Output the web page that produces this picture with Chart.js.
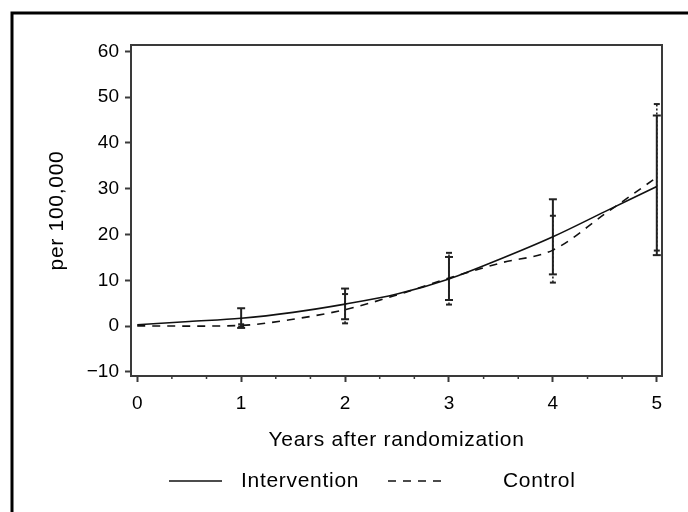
<!DOCTYPE html>
<html>
<head>
<meta charset="utf-8">
<style>
  html, body { margin: 0; padding: 0; background: #fff; }
  #wrap { width: 688px; height: 512px; position: relative; }
</style>
<script src="https://cdn.jsdelivr.net/npm/chart.js"></script>
</head>
<body>
<div id="wrap"><canvas id="chart"></canvas></div>
<script>
/* ---------- DATA ---------- */
const years = [0, 0.5, 1, 1.5, 2, 2.5, 3, 3.5, 4, 4.5, 5];
const intervention = [0.3, 1.0, 1.7, 3.0, 4.8, 7.0, 10.3, 14.7, 19.5, 25.0, 30.5];
const control = [0.05, 0.0, 0.15, 1.5, 3.6, 6.8, 10.5, 13.8, 16.6, 24.5, 32.5];

// 95% intervals at each full year
const ciYears = [1, 2, 3, 4, 5];
const interventionLow = [-0.4, 1.5, 5.7, 11.3, 15.5];
const interventionHigh = [3.9, 8.2, 15.1, 27.7, 46.0];
const controlLow = [-0.1, 0.6, 4.7, 9.5, 16.5];
const controlHigh = [0.4, 7.0, 16.0, 24.1, 48.5];

const xTicks = [0, 1, 2, 3, 4, 5];
const yTicks = [-10, 0, 10, 20, 30, 40, 50, 60];

/* ---------- HELPERS ---------- */
const toPoints = (xs, ys) => xs.map((x, i) => ({ x: x, y: ys[i] }));

// one broken line: low -> high, gap, next year ...
function ciPoints(xs, lo, hi) {
  const pts = [];
  xs.forEach((x, i) => {
    pts.push({ x: x, y: lo[i] });
    pts.push({ x: x, y: hi[i] });
    pts.push({ x: x, y: null });
  });
  return pts;
}

const ink = '#111';
const frameColor = '#3a3a3a';

/* ---------- EXTRA DRAWING ---------- */
const decor = {
  id: 'decor',
  afterDraw(chart) {
    const ctx = chart.ctx;
    const a = chart.chartArea;
    const xs = chart.scales.x;

    ctx.save();
    // plot box
    ctx.strokeStyle = frameColor;
    ctx.lineWidth = 2;
    ctx.strokeRect(a.left, a.top, a.right - a.left, a.bottom - a.top);

    // minor ticks on x axis
    ctx.lineWidth = 1.5;
    ctx.beginPath();
    for (let k = 0; k < 15; k++) {
      if (k % 3 === 0) continue;
      const px = xs.getPixelForValue(k / 3);
      ctx.moveTo(px, a.bottom);
      ctx.lineTo(px, a.bottom + 3);
    }
    ctx.stroke();

    // outer frame
    ctx.strokeStyle = '#000';
    ctx.lineWidth = 3;
    ctx.strokeRect(12, 13, 800, 600);

    // titles
    ctx.fillStyle = '#000';
    ctx.letterSpacing = '0.7px';
    ctx.font = '21px "Liberation Sans", Arial, sans-serif';
    ctx.textBaseline = 'middle';
    ctx.textAlign = 'center';
    ctx.fillText('Years after randomization', (a.left + a.right) / 2, 440);

    ctx.save();
    ctx.translate(57, (a.top + a.bottom) / 2);
    ctx.rotate(-Math.PI / 2);
    ctx.fillText('per 100,000', 0, 0);
    ctx.restore();

    // legend
    ctx.textAlign = 'left';
    ctx.strokeStyle = ink;
    ctx.lineWidth = 1.5;
    ctx.beginPath();
    ctx.moveTo(169, 481);
    ctx.lineTo(222, 481);
    ctx.stroke();
    ctx.fillText('Intervention', 241, 481);

    ctx.setLineDash([8, 7]);
    ctx.beginPath();
    ctx.moveTo(388, 481);
    ctx.lineTo(443, 481);
    ctx.stroke();
    ctx.setLineDash([]);
    ctx.fillText('Control', 503, 481);
    ctx.restore();
  }
};

/* ---------- CHART ---------- */
const tickFont = { family: '"Liberation Sans", Arial, sans-serif', size: 19 };

new Chart(document.getElementById('chart'), {
  type: 'line',
  data: {
    datasets: [
      {
        label: 'Intervention',
        data: toPoints(years, intervention),
        borderColor: ink,
        borderWidth: 1.6,
        pointRadius: 0,
        cubicInterpolationMode: 'monotone'
      },
      {
        label: 'Control',
        data: toPoints(years, control),
        borderColor: ink,
        borderWidth: 1.6,
        borderDash: [8, 7],
        pointRadius: 0,
        cubicInterpolationMode: 'monotone'
      },
      {
        label: 'Intervention CI',
        data: ciPoints(ciYears, interventionLow, interventionHigh),
        borderColor: '#222',
        borderWidth: 2,
        pointStyle: 'line',
        pointRadius: 4,
        pointBorderWidth: 2,
        pointBorderColor: '#222',
        spanGaps: false,
        tension: 0
      },
      {
        label: 'Control CI',
        data: ciPoints(ciYears, controlLow, controlHigh),
        borderColor: '#222',
        borderWidth: 1.6,
        borderDash: [2, 2],
        pointStyle: 'line',
        pointRadius: 3,
        pointBorderWidth: 2,
        pointBorderColor: '#222',
        spanGaps: false,
        tension: 0
      }
    ]
  },
  options: {
    responsive: true,
    maintainAspectRatio: false,
    animation: false,
    layout: { padding: { left: 0, right: 26, top: 45, bottom: 0 } },
    plugins: {
      legend: { display: false },
      tooltip: { enabled: false }
    },
    scales: {
      x: {
        type: 'linear',
        min: -0.06,
        max: 5.05,
        afterBuildTicks: s => { s.ticks = xTicks.map(v => ({ value: v })); },
        afterFit: s => { s.height = 136; },
        grid: {
          drawOnChartArea: false,
          drawTicks: true,
          tickLength: 6,
          tickWidth: 2,
          tickColor: frameColor
        },
        border: { display: true, color: frameColor, width: 2 },
        ticks: { color: '#000', font: tickFont, padding: 10, maxRotation: 0 }
      },
      y: {
        type: 'linear',
        min: -10.9,
        max: 61.4,
        afterBuildTicks: s => { s.ticks = yTicks.map(v => ({ value: v })); },
        afterFit: s => { s.width = 131; },
        grid: {
          drawOnChartArea: false,
          drawTicks: true,
          tickLength: 6,
          tickWidth: 2,
          tickColor: frameColor
        },
        border: { display: true, color: frameColor, width: 2 },
        ticks: {
          color: '#000',
          font: tickFont,
          padding: 6,
          callback: v => (v < 0 ? '\u2212' + Math.abs(v) : String(v))
        }
      }
    }
  },
  plugins: [decor]
});
</script>
</body>
</html>
